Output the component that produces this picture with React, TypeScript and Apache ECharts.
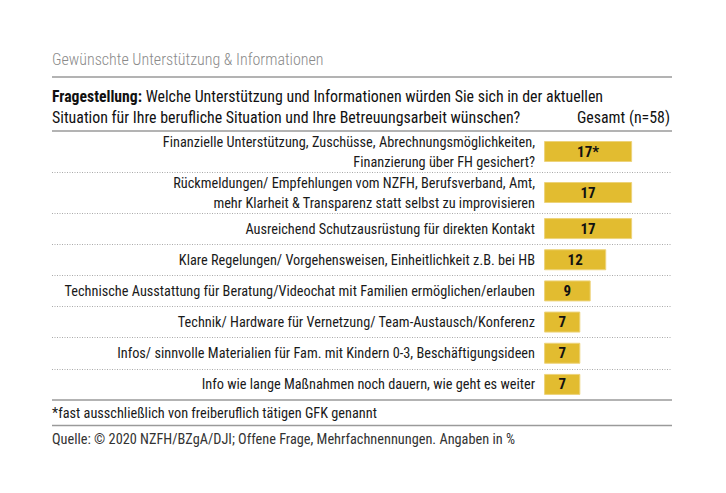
import React, { useEffect, useRef } from "react";
import * as echarts from "echarts";

const categories = [
  "Finanzielle Unterstützung, Zuschüsse, Abrechnungsmöglichkeiten,\nFinanzierung über FH gesichert?",
  "Rückmeldungen/ Empfehlungen vom NZFH, Berufsverband, Amt,\nmehr Klarheit & Transparenz statt selbst zu improvisieren",
  "Ausreichend Schutzausrüstung für direkten Kontakt",
  "Klare Regelungen/ Vorgehensweisen, Einheitlichkeit z.B. bei HB",
  "Technische Ausstattung für Beratung/Videochat mit Familien ermöglichen/erlauben",
  "Technik/ Hardware für Vernetzung/ Team-Austausch/Konferenz",
  "Infos/ sinnvolle Materialien für Fam. mit Kindern 0-3, Beschäftigungsideen",
  "Info wie lange Maßnahmen noch dauern, wie geht es weiter",
];
const values = [17, 17, 17, 12, 9, 7, 7, 7];
const markers = ["*", "", "", "", "", "", "", ""];

const titleText = "Gewünschte Unterstützung & Informationen";
const questionLabel = "Fragestellung:";
const questionLine1 = " Welche Unterstützung und Informationen würden Sie sich in der aktuellen";
const questionLine2 = "Situation für Ihre berufliche Situation und Ihre Betreuungsarbeit wünschen?";
const sampleText = "Gesamt (n=58)";
const footnoteText = "*fast ausschließlich von freiberuflich tätigen GFK genannt";
const sourceText = "Quelle: © 2020 NZFH/BZgA/DJI; Offene Frage, Mehrfachnennungen. Angaben in %";

const FONT = "'Roboto Condensed', Roboto, sans-serif";
const BAR = "#E2BC30";
const RULE = "#9a9a9a";

export default function App() {
  const ref = useRef<HTMLDivElement>(null);
  useEffect(() => {
    if (!ref.current) return;
    const chart = echarts.init(ref.current, undefined, { renderer: "svg" });
    const twoLineCount = 2;
    const groups = [
      { cats: categories.slice(0, twoLineCount), vals: values.slice(0, twoLineCount), marks: markers.slice(0, twoLineCount), top: 131, height: 82 },
      { cats: categories.slice(twoLineCount), vals: values.slice(twoLineCount), marks: markers.slice(twoLineCount), top: 213, height: 187 },
    ];
    const ruleLine = (y: number) => ({
      type: "line",
      shape: { x1: 52, y1: y, x2: 672, y2: y },
      style: { stroke: RULE, lineWidth: 1.5 },
      z: 10,
    });
    chart.setOption({
      animation: false,
      textStyle: { fontFamily: FONT },
      grid: groups.map((g) => ({ left: 52, right: 54, top: g.top, height: g.height })),
      xAxis: groups.map((_, i) => ({
        type: "value",
        gridIndex: i,
        min: -95,
        max: 24.7,
        show: false,
      })),
      yAxis: groups.map((g, i) => ({
        type: "category",
        gridIndex: i,
        inverse: true,
        data: g.cats,
        offset: -492,
        axisLine: { show: false },
        axisTick: { show: false },
        axisLabel: {
          margin: 9,
          fontFamily: FONT,
          fontSize: 14.3,
          lineHeight: 20,
          color: "#1a1a1a",
        },
        splitLine: {
          show: true,
          showMinLine: false,
          showMaxLine: i === 0,
          lineStyle: { color: "#aaa", width: 1, type: [1, 1.5] },
        },
      })),
      series: groups.map((g, i) => ({
        type: "bar",
        xAxisIndex: i,
        yAxisIndex: i,
        barWidth: 21,
        data: g.vals,
        itemStyle: { color: BAR, borderColor: "#EDD37A", borderWidth: 1 },
        label: {
          show: true,
          position: "inside",
          fontFamily: FONT,
          fontWeight: "bold",
          fontSize: 15,
          color: "#111",
          formatter: (p: any) => `${p.value}${g.marks[p.dataIndex]}`,
        },
      })),
      graphic: [
        {
          type: "text",
          x: 52,
          y: 59,
          style: { text: titleText, fill: "#8a8a8a", font: `300 16px ${FONT}`, textVerticalAlign: "middle" },
        },
        ruleLine(77),
        {
          type: "text",
          x: 52,
          y: 96,
          style: {
            text: `{b|${questionLabel}}{n|${questionLine1}}`,
            textVerticalAlign: "middle",
            rich: {
              b: { fontFamily: FONT, fontSize: 15.7, fontWeight: "bold", fill: "#111" },
              n: { fontFamily: FONT, fontSize: 15.9, fill: "#111" },
            },
          },
        },
        {
          type: "text",
          x: 52,
          y: 117,
          style: { text: questionLine2, fill: "#111", font: `15.9px ${FONT}`, textVerticalAlign: "middle" },
        },
        {
          type: "text",
          x: 670,
          y: 117,
          style: { text: sampleText, fill: "#111", font: `15.9px ${FONT}`, textAlign: "right", textVerticalAlign: "middle" },
        },
        ruleLine(131),
        ruleLine(400),
        {
          type: "text",
          x: 52,
          y: 413,
          style: { text: footnoteText, fill: "#1a1a1a", font: `14.3px ${FONT}`, textVerticalAlign: "middle" },
        },
        ruleLine(425.5),
        {
          type: "text",
          x: 52,
          y: 439,
          style: { text: sourceText, fill: "#333", font: `14.3px ${FONT}`, textVerticalAlign: "middle" },
        },
      ],
    });
    return () => chart.dispose();
  }, []);
  return <div ref={ref} style={{ width: 726, height: 493, position: "absolute", left: 0, top: 0, background: "#fff" }} />;
}
